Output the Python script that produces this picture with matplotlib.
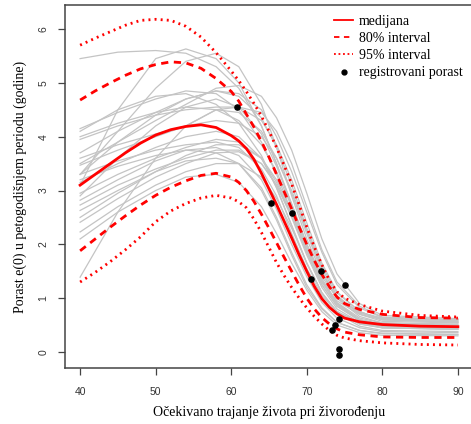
import numpy as np
import matplotlib
matplotlib.use("Agg")
import matplotlib.pyplot as plt
from matplotlib.lines import Line2D

# x grid for the projection bands (e0 at birth)
band_x = [40, 42, 44, 46, 48, 50, 52, 54, 56, 58, 60, 61, 62, 63, 64, 65, 66, 67, 68, 69,
          70, 71, 72, 73, 74, 75, 77, 80, 85, 90]
median = [3.10, 3.30, 3.50, 3.70, 3.88, 4.03, 4.13, 4.19, 4.22, 4.17, 4.02, 3.92, 3.78, 3.58,
          3.32, 3.03, 2.74, 2.43, 2.12, 1.80, 1.50, 1.22, 0.99, 0.83, 0.71, 0.63, 0.56, 0.51,
          0.48, 0.47]
upper80 = [4.68, 4.85, 5.00, 5.14, 5.26, 5.34, 5.39, 5.37, 5.27, 5.08, 4.84, 4.66, 4.42, 4.18,
           3.91, 3.62, 3.30, 2.98, 2.66, 2.32, 2.00, 1.70, 1.44, 1.21, 1.02, 0.90, 0.79, 0.70,
           0.64, 0.63]
lower80 = [1.88, 2.10, 2.32, 2.53, 2.73, 2.91, 3.06, 3.18, 3.28, 3.32, 3.25, 3.15, 3.00, 2.80,
           2.56, 2.30, 2.03, 1.76, 1.50, 1.24, 1.00, 0.80, 0.64, 0.52, 0.43, 0.37, 0.32, 0.28,
           0.27, 0.27]
upper95 = [5.70, 5.83, 5.95, 6.07, 6.16, 6.18, 6.16, 6.05, 5.85, 5.56, 5.22, 5.04, 4.84, 4.62,
           4.38, 4.10, 3.80, 3.47, 3.12, 2.73, 2.32, 1.95, 1.62, 1.33, 1.12, 1.00, 0.88, 0.76,
           0.68, 0.65]
lower95 = [1.30, 1.48, 1.68, 1.90, 2.14, 2.42, 2.62, 2.76, 2.86, 2.91, 2.86, 2.79, 2.68, 2.47,
           2.22, 1.94, 1.66, 1.42, 1.20, 1.00, 0.82, 0.66, 0.52, 0.40, 0.31, 0.26, 0.21, 0.17,
           0.14, 0.13]

# simulated trajectories (gray)
traj_x = [40, 45, 50, 54, 58, 61, 64, 66, 68, 70, 72, 74, 77, 80, 90]
trajectories = [
    [5.45, 5.57, 5.60, 5.55, 5.30, 4.90, 4.20, 3.50, 2.70, 1.90, 1.30, 0.95, 0.70, 0.60, 0.56],
    [3.10, 4.50, 5.45, 5.63, 5.45, 5.00, 4.20, 3.50, 2.75, 2.00, 1.40, 1.00, 0.72, 0.62, 0.58],
    [3.30, 4.10, 4.90, 5.40, 5.55, 5.30, 4.60, 3.80, 2.90, 2.10, 1.45, 1.02, 0.74, 0.63, 0.60],
    [4.15, 4.45, 4.70, 4.85, 4.80, 4.50, 3.90, 3.30, 2.60, 1.85, 1.25, 0.85, 0.60, 0.52, 0.50],
    [4.00, 4.25, 4.45, 4.55, 4.50, 4.30, 3.85, 3.35, 2.70, 2.00, 1.35, 0.92, 0.63, 0.54, 0.52],
    [3.70, 4.10, 4.45, 4.70, 4.85, 4.75, 4.35, 3.80, 3.10, 2.30, 1.60, 1.10, 0.75, 0.60, 0.56],
    [3.60, 3.85, 4.05, 4.20, 4.30, 4.25, 4.00, 3.60, 3.00, 2.25, 1.55, 1.05, 0.70, 0.57, 0.54],
    [3.47, 3.75, 4.00, 4.20, 4.50, 4.55, 4.30, 3.85, 3.20, 2.40, 1.65, 1.12, 0.75, 0.60, 0.55],
    [3.30, 3.55, 3.75, 3.85, 3.90, 3.80, 3.40, 2.90, 2.20, 1.55, 1.05, 0.75, 0.55, 0.48, 0.46],
    [3.15, 3.50, 3.80, 4.00, 4.10, 4.00, 3.60, 3.05, 2.35, 1.65, 1.10, 0.75, 0.52, 0.45, 0.42],
    [2.95, 3.30, 3.60, 3.80, 3.95, 3.90, 3.60, 3.15, 2.55, 1.85, 1.25, 0.85, 0.58, 0.48, 0.45],
    [2.82, 3.20, 3.55, 3.75, 3.80, 3.65, 3.20, 2.65, 2.00, 1.40, 0.92, 0.63, 0.45, 0.38, 0.36],
    [2.73, 3.10, 3.40, 3.60, 3.75, 3.75, 3.50, 3.10, 2.50, 1.80, 1.20, 0.80, 0.55, 0.45, 0.42],
    [2.63, 3.00, 3.35, 3.55, 3.60, 3.50, 3.05, 2.50, 1.85, 1.25, 0.82, 0.55, 0.40, 0.34, 0.32],
    [2.50, 2.95, 3.35, 3.65, 3.85, 3.85, 3.60, 3.20, 2.60, 1.95, 1.35, 0.90, 0.60, 0.50, 0.47],
    [2.41, 2.85, 3.25, 3.50, 3.70, 3.72, 3.50, 3.10, 2.55, 1.90, 1.30, 0.88, 0.58, 0.48, 0.45],
    [2.23, 2.70, 3.10, 3.35, 3.50, 3.50, 3.25, 2.85, 2.30, 1.65, 1.10, 0.72, 0.48, 0.40, 0.38],
    [1.39, 2.60, 3.60, 4.20, 4.50, 4.45, 4.10, 3.60, 2.95, 2.20, 1.50, 1.00, 0.66, 0.54, 0.50],
    [3.30, 3.90, 4.40, 4.70, 4.85, 4.80, 4.50, 4.00, 3.35, 2.60, 1.85, 1.25, 0.82, 0.64, 0.60],
    [3.50, 3.90, 4.30, 4.60, 4.90, 4.95, 4.75, 4.35, 3.75, 2.95, 2.10, 1.45, 0.90, 0.68, 0.62],
    [3.95, 4.20, 4.40, 4.50, 4.55, 4.55, 4.45, 4.10, 3.50, 2.70, 1.90, 1.30, 0.85, 0.65, 0.60],
    [3.20, 3.45, 3.65, 3.75, 3.70, 3.50, 3.00, 2.45, 1.80, 1.20, 0.80, 0.55, 0.40, 0.35, 0.33],
    [2.90, 3.60, 4.20, 4.55, 4.70, 4.55, 4.05, 3.45, 2.75, 2.00, 1.35, 0.90, 0.60, 0.50, 0.48],
    [4.10, 4.50, 4.75, 4.80, 4.60, 4.25, 3.65, 3.05, 2.35, 1.65, 1.10, 0.75, 0.52, 0.45, 0.43],
    [2.10, 2.60, 3.00, 3.25, 3.30, 3.15, 2.70, 2.20, 1.65, 1.15, 0.75, 0.50, 0.36, 0.31, 0.30],
]

# registered gains
obs_e0 = [60.7, 65.2, 68.1, 70.6, 71.9, 75.0, 74.3, 73.8, 73.4, 74.3, 74.3]
obs_gain = [4.56, 2.76, 2.58, 1.35, 1.50, 1.24, 0.61, 0.50, 0.41, 0.06, -0.06]

serif = ["Liberation Serif", "DejaVu Serif"]
red = "#ff0000"

fig = plt.figure(figsize=(4.71, 4.24), dpi=100)
ax = fig.add_axes([65 / 471, 56 / 424, 408 / 471, 363 / 424])

for tr in trajectories:
    ax.plot(traj_x, tr, color="#c4c4c4", lw=0.9, zorder=1)

ax.plot(band_x, median, color=red, lw=2.0, zorder=3)
for lo_hi in (upper80, lower80):
    ax.plot(band_x, lo_hi, color=red, lw=2.0, dashes=(2.6, 2.0), zorder=3)
for lo_hi in (upper95, lower95):
    ax.plot(band_x, lo_hi, color=red, lw=2.0, dashes=(0.7, 1.5), zorder=3)

ax.scatter(obs_e0, obs_gain, s=14, color="black", zorder=4)

ax.set_xlim(38, 92)
ax.set_ylim(-0.297, 6.446)
ax.set_xticks([40, 50, 60, 70, 80, 90])
ax.set_yticks([0, 1, 2, 3, 4, 5, 6])
for s in ax.spines.values():
    s.set_color("#444444")
    s.set_linewidth(1.1)
ax.tick_params(axis="both", direction="out", length=5, width=0.9, color="#444444",
               labelsize=7.5, labelcolor="#333333")
ax.tick_params(axis="x", pad=9)
ax.tick_params(axis="y", pad=7)
for lab in ax.get_xticklabels() + ax.get_yticklabels():
    lab.set_family("Liberation Sans")
for lab in ax.get_yticklabels():
    lab.set_rotation(90)
    lab.set_va("center")

ax.set_xlabel("Očekivano trajanje života pri živorođenju", family=serif, fontsize=10, labelpad=6)
ax.set_ylabel("Porast e(0) u petogodišnjem periodu (godine)", family=serif, fontsize=10, labelpad=8)

handles = [
    Line2D([], [], color=red, lw=1.3),
    Line2D([], [], color=red, lw=1.3, dashes=(3, 2.5)),
    Line2D([], [], color=red, lw=1.3, dashes=(1, 1.5)),
    Line2D([], [], color="black", lw=0, marker="o", markersize=3.5),
]
labels = ["medijana", "80% interval", "95% interval", "registrovani porast"]
fig.legend(handles, labels, loc="upper left", bbox_to_anchor=(327 / 471, 1 - 8 / 424),
           frameon=False, prop={"family": serif, "size": 10}, handlelength=1.4,
           handletextpad=0.4, labelspacing=0.3, borderpad=0)

fig.savefig("out.png", dpi=100)
